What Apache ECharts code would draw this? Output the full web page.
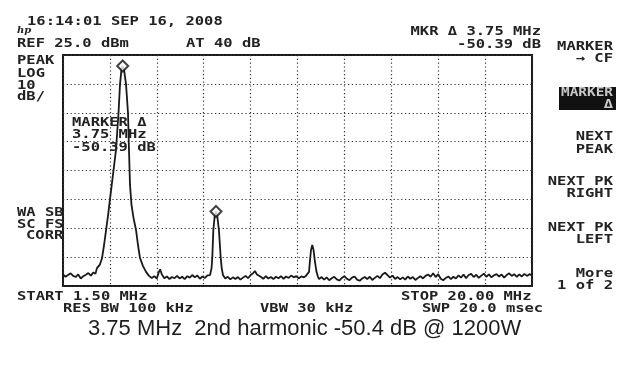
<!DOCTYPE html>
<html><head><meta charset="utf-8">
<script src="https://cdn.jsdelivr.net/npm/echarts@6/dist/echarts.min.js"></script>
<style>html,body{margin:0;padding:0;background:#fff}#c{width:641px;height:371px}</style>
</head><body><div id="c"></div>
<script>
// Trace: frequency (MHz) and level (dBm)
const freqMHz = [
  1.5,1.6,1.7,1.8,1.9,2.0,2.1,2.2,2.3,2.4,2.5,2.6,2.7,
  2.78,2.84,2.96,3.04,3.12,3.20,3.28,3.35,3.47,3.59,3.69,3.75,3.81,3.855,3.91,3.985,4.064,4.103,4.143,4.202,4.281,4.38,4.458,4.537,4.656,4.774,4.892,
  5.0,5.1,5.2,5.28,5.33,5.4,5.5,5.6,5.7,5.8,5.9,6.0,6.1,6.2,6.3,6.4,6.5,6.6,6.7,6.8,6.9,7.0,7.1,7.2,7.3,
  7.36,7.39,7.43,7.48,7.535,7.59,7.65,7.72,7.76,7.81,
  7.9,8.0,8.1,8.2,8.3,8.4,8.5,8.6,8.7,8.8,8.9,9.0,9.07,9.15,9.2,9.3,9.4,9.5,9.6,9.7,9.8,9.9,10.0,10.1,10.2,10.3,10.4,10.5,10.6,10.7,10.8,10.9,11.0,11.08,
  11.125,11.204,11.244,11.283,11.334,11.382,11.441,11.50,11.56,
  11.6,11.7,11.8,11.9,12.0, 12.1,12.2,12.3,12.4,12.5, 12.6,12.7,12.8,12.9,13.0, 13.1,13.2,13.3,13.4,13.5,
  13.6,13.7,13.8,13.9,14.0, 14.1,14.2,14.3,14.4,14.5, 14.6,14.7,14.8,14.9,15.0, 15.1,15.2,15.3,15.4,15.5,
  15.6,15.7,15.8,15.9,16.0, 16.1,16.2,16.3,16.4,16.5, 16.6,16.7,16.8,16.9,17.0, 17.1,17.2,17.3,17.4,17.5,
  17.6,17.7,17.8,17.9,18.0, 18.1,18.2,18.3,18.4,18.5, 18.6,18.7,18.8,18.9,19.0, 19.1,19.2,19.3,19.4,19.5,
  19.6,19.7,19.8,19.9,20.0
];
const levelDbm = [
  -51.0,-51.8,-51.2,-50.6,-51.5,-51.9,-51.0,-52.4,-51.6,-51.1,-50.5,-51.4,-50.3,
  -50.8,-48.8,-47.5,-45.3,-40.8,-35.6,-30.4,-25.2,-16.6,-7.9,4.9,15.0,20.3,21.2,19.8,15.0,4.9,-7.9,-20.0,-26.9,-31.4,-35.6,-40.8,-45.3,-48.1,-50.1,-51.5,
  -52.2,-51.6,-52.4,-50.2,-49.2,-51.0,-52.3,-51.7,-52.6,-51.9,-52.3,-51.5,-52.4,-51.8,-52.6,-51.6,-52.1,-51.2,-52.0,-51.4,-52.5,-51.7,-52.2,-51.3,-51.2,
  -48.8,-45.0,-35.6,-31.1,-29.2,-31.1,-35.6,-45.0,-48.8,-51.2,
  -52.4,-51.8,-52.7,-52.0,-52.6,-51.9,-52.8,-52.1,-51.5,-52.3,-51.2,-50.6,-49.8,-51.0,-50.4,-51.8,-52.5,-51.6,-52.4,-51.9,-52.6,-51.8,-52.3,-51.6,-52.5,-51.7,-52.2,-51.4,-52.0,-51.6,-52.3,-51.7,-52.0,-51.5,
  -51.5,-50.1,-46.0,-42.5,-40.8,-42.5,-46.7,-50.1,-51.9,
  -52.6,-51.9,-52.8,-52.0,-53.0, -52.3,-51.8,-52.7,-53.1,-52.2, -51.6,-52.5,-53.0,-52.1,-51.7, -52.8,-53.2,-52.4,-51.9,-52.6,
  -51.8,-52.9,-52.2,-51.5,-52.3, -51.0,-50.4,-51.2,-52.1,-51.4, -52.6,-51.9,-52.7,-52.0,-52.8, -51.7,-52.5,-51.9,-52.9,-52.2,
  -51.6,-52.4,-51.5,-51.0,-51.8, -50.6,-51.9,-50.9,-52.5,-53.0, -52.2,-51.7,-52.6,-51.8,-52.4, -51.3,-52.1,-51.0,-52.3,-51.2,
  -50.8,-51.9,-51.1,-52.2,-51.4, -50.7,-51.8,-51.0,-52.0,-51.3, -50.9,-51.7,-51.0,-52.1,-51.2, -50.6,-51.5,-50.9,-51.8,-51.0,
  -51.7,-50.8,-51.5,-50.9,-51.3
];
// Markers (diamonds)
const markerFreqMHz = [3.855, 7.535];
const markerLevelDbm = [21.2, -29.2];
// Scale settings
const startMHz = 1.5, stopMHz = 20.0;
const refLevelDbm = 25, dbPerDiv = 10, yDivs = 8, xDivs = 10;
// Annotation texts
const headerTexts = ['16:14:01 SEP 16, 2008', 'REF 25.0 dBm', 'AT 40 dB'];
const markerReadout = ['MKR \u0394 3.75 MHz', '-50.39 dB'];
const leftTexts = ['PEAK', 'LOG', '10', 'dB/'];
const corrTexts = ['WA SB', 'SC FS', 'CORR'];
const inPlotTexts = ['MARKER \u0394', '3.75 MHz', '-50.39 dB'];
const footerTexts = ['START 1.50 MHz', 'STOP 20.00 MHz', 'RES BW 100 kHz', 'VBW 30 kHz', 'SWP 20.0 msec'];
const softkeys = [['MARKER', '\u2192 CF'], ['NEXT', 'PEAK'], ['NEXT PK', 'RIGHT'], ['NEXT PK', 'LEFT'], ['More', '1 of 2']];
const caption = '3.75 MHz  2nd harmonic -50.4 dB @ 1200W';

const MONO = 'bold 12px "DejaVu Sans Mono"';
const INK = '#222';
function t(str, x, y, align, fill, sx) {
  align = align || 'left';
  return {type: 'text', x: x, y: y, scaleX: sx || 1.29, z: 100,
    style: {text: str, font: MONO, fill: fill || INK, textAlign: align, align: align,
            textVerticalAlign: 'middle', verticalAlign: 'middle'}};
}

const graphics = [];
graphics.push(t(headerTexts[0], 27, 22));
graphics.push({type: 'text', x: 17, y: 30, z: 100, style: {text: 'hp', font: 'italic bold 10px "DejaVu Serif"', fill: INK, textVerticalAlign: 'middle', verticalAlign: 'middle'}});
graphics.push(t(headerTexts[1], 17, 44));
graphics.push(t(headerTexts[2], 186, 44));
graphics.push(t(markerReadout[0], 541, 32, 'right'));
graphics.push(t(markerReadout[1], 541, 45, 'right'));
[61, 74, 86, 97].forEach((y, i) => graphics.push(t(leftTexts[i], 17, y)));
graphics.push(t(corrTexts[0], 17, 213));
graphics.push(t(corrTexts[1], 17, 225));
graphics.push(t(corrTexts[2], 26, 236));
[123, 135, 148].forEach((y, i) => graphics.push(t(inPlotTexts[i], 72, y)));
graphics.push(t(footerTexts[0], 17, 297));
graphics.push(t(footerTexts[1], 401, 297));
graphics.push(t(footerTexts[2], 63, 309));
graphics.push(t(footerTexts[3], 260, 309));
graphics.push(t(footerTexts[4], 422, 309));
// softkeys
graphics.push(t(softkeys[0][0], 613, 47, 'right'));
graphics.push(t(softkeys[0][1], 613, 59, 'right'));
graphics.push({type: 'rect', z: 90, shape: {x: 559, y: 87, width: 57, height: 23}, style: {fill: '#111'}});
graphics.push(t('MARKER', 561, 93, 'left', '#c8c8c8', 1.2));
graphics.push(t('\u0394', 613, 105, 'right', '#c8c8c8'));
graphics.push(t(softkeys[1][0], 613, 137, 'right'));
graphics.push(t(softkeys[1][1], 613, 150, 'right'));
graphics.push(t(softkeys[2][0], 613, 182, 'right'));
graphics.push(t(softkeys[2][1], 613, 194, 'right'));
graphics.push(t(softkeys[3][0], 613, 228, 'right'));
graphics.push(t(softkeys[3][1], 613, 240, 'right'));
graphics.push(t(softkeys[4][0], 613, 274, 'right'));
graphics.push(t(softkeys[4][1], 613, 286, 'right'));
graphics.push({type: 'text', x: 88, y: 329, z: 100, style: {text: caption, font: '22px "Liberation Sans"', fill: '#1e1e1e', textVerticalAlign: 'middle', verticalAlign: 'middle'}});

const dotted = {show: true, lineStyle: {color: '#333', width: 1.2, type: [1.2, 2.6]}};
const option = {
  animation: false,
  backgroundColor: '#fff',
  grid: {left: 63, top: 55, width: 469, height: 231, show: true, borderColor: '#1a1a1a', borderWidth: 2, backgroundColor: 'transparent'},
  xAxis: [
    {type: 'value', min: startMHz, max: stopMHz, show: false},
    {type: 'value', min: 0, max: xDivs, interval: 1, axisLine: {show: false}, axisTick: {show: false}, axisLabel: {show: false}, splitLine: dotted}
  ],
  yAxis: [
    {type: 'value', min: refLevelDbm - dbPerDiv * yDivs, max: refLevelDbm, show: false},
    {type: 'value', min: 0, max: yDivs, interval: 1, axisLine: {show: false}, axisTick: {show: false}, axisLabel: {show: false}, splitLine: dotted}
  ],
  series: [
    {type: 'line', xAxisIndex: 0, yAxisIndex: 0, data: freqMHz.map((f, i) => [f, levelDbm[i]]),
     showSymbol: false, symbol: 'none', lineStyle: {color: '#1a1a1a', width: 1.8}, z: 5},
    {type: 'scatter', xAxisIndex: 0, yAxisIndex: 0, data: markerFreqMHz.map((f, i) => [f, markerLevelDbm[i]]),
     symbol: 'diamond', symbolSize: [11, 11], itemStyle: {color: '#fff', borderColor: '#111', borderWidth: 2}, z: 6}
  ],
  graphic: graphics
};
const chart = echarts.init(document.getElementById('c'), null, {renderer: 'canvas'});
chart.setOption(option);
</script></body></html>
